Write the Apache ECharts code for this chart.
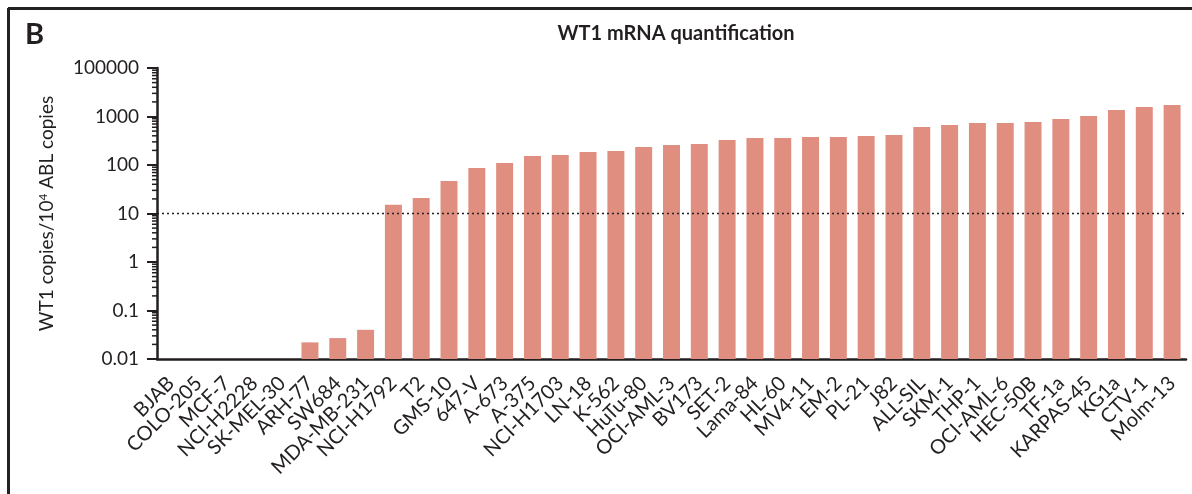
<!DOCTYPE html>
<html>
<head>
<meta charset="utf-8">
<script src="https://cdn.jsdelivr.net/npm/echarts@6/dist/echarts.min.js"></script>
<style>
html,body{margin:0;padding:0;background:#fff;}
#chart{width:1192px;height:494px;}
</style>
</head>
<body>
<div id="chart"></div>
<script>
const categories = ['BJAB','COLO-205','MCF-7','NCI-H2228','SK-MEL-30','ARH-77','SW684','MDA-MB-231','NCI-H1792','T2','GMS-10','647-V','A-673','A-375','NCI-H1703','LN-18','K-562','HuTu-80','OCI-AML-3','BV173','SET-2','Lama-84','HL-60','MV4-11','EM-2','PL-21','J82','ALL-SIL','SKM-1','THP-1','OCI-AML-6','HEC-50B','TF-1a','KARPAS-45','KG1a','CTV-1','Molm-13'];
const wt1Values = [null,null,null,null,null,0.022,0.027,0.040,15.2,20.9,46.7,86.7,110,153,161,185,194,235,258,271,327,360,360,378,378,396,415,608,668,735,735,771,888,1023,1361,1570,1726];
const yTickLabels = {'0.01':'0.01','0.1':'0.1','1':'1','10':'10','100':'100','1000':'1000','10000':'100000'};
const thresholdValue = 10;
const axisMin = 0.01;
const axisMax = 10000;
const minorTickValues = [0.02,0.03,0.04,0.05,0.06,0.07,0.08,0.09,0.2,0.3,0.4,0.5,0.6,0.7,0.8,0.9,2,3,4,5,6,7,8,9,20,30,40,50,60,70,80,90,200,300,400,500,600,700,800,900,2000,3000,4000,5000,6000,7000,8000,9000];

const FONT = 'Lato';
const INK = '#231f20';
const chart = echarts.init(document.getElementById('chart'), null, {renderer:'canvas'});
chart.setOption({
  animation:false,
  backgroundColor:'#fff',
  title:{
    text:'WT1 mRNA quantification',
    left:671, top:19, textAlign:'center',
    textStyle:{fontFamily:FONT,fontWeight:'bold',fontSize:20,color:INK}
  },
  graphic:[
    {type:'line',shape:{x1:8,y1:8.5,x2:1192,y2:8.5},style:{stroke:'#222',lineWidth:3}},
    {type:'line',shape:{x1:8.5,y1:8,x2:8.5,y2:494},style:{stroke:'#222',lineWidth:3}},
    {type:'text',left:25,top:20,style:{text:'B',fontFamily:FONT,fontWeight:'bold',fontSize:29,fill:INK}}
  ],
  grid:{left:157,right:6,top:68,bottom:135,containLabel:false},
  xAxis:{
    type:'category',
    data:categories,
    axisLine:{lineStyle:{color:INK,width:2.5}},
    axisTick:{alignWithLabel:true,length:10,lineStyle:{color:INK,width:2}},
    axisLabel:{interval:0,rotate:45,fontFamily:FONT,fontSize:20,color:INK,margin:21}
  },
  yAxis:{
    type:'log',
    logBase:10,
    min:axisMin,
    max:axisMax,
    splitNumber:6,
    name:'{a|WT1 copies/10}{s|4}{a| ABL copies}',
    nameLocation:'middle',
    nameGap:100,
    nameTextStyle:{rich:{a:{fontFamily:FONT,fontSize:19,color:INK},s:{fontFamily:FONT,fontSize:12,color:INK,verticalAlign:'top',padding:[0,0,8,0]}}},
    axisLine:{show:true,lineStyle:{color:INK,width:2.5}},
    axisTick:{show:true,length:10,lineStyle:{color:INK,width:2}},
    splitLine:{show:false},
    axisLabel:{fontFamily:FONT,fontSize:19,color:INK,margin:18,
      formatter:function(v){const k=String(+v.toPrecision(6));return yTickLabels[k]!==undefined?yTickLabels[k]:k;}}
  },
  series:[
    {
      type:'custom',
      name:'WT1',
      data:wt1Values.map((v,i)=>[i, v==null?'-':v]),
      encode:{x:0,y:1},
      renderItem:function(params,api){
        const v=api.value(1);
        if(v==null||isNaN(v)) return null;
        const top=api.coord([api.value(0),v]);
        const base=api.coord([api.value(0),axisMin]);
        const w=api.size([1,0])[0]*0.61;
        return {type:'rect',shape:{x:top[0]-w/2,y:top[1],width:w,height:base[1]-top[1]},style:{fill:'#e08e80'}};
      },
      z:2
    },
    {
      type:'line',
      data:[],
      silent:true,
      markLine:{
        silent:true,symbol:['none','none'],
        label:{show:false},
        lineStyle:{type:[2,3],color:INK,width:1.3},
        data:[{yAxis:thresholdValue}]
      },
      z:3
    },
    {
      type:'custom',
      silent:true,
      clip:false,
      data:minorTickValues.map(v=>[0,v]),
      encode:{x:0,y:1},
      renderItem:function(params,api){
        const y=api.coord([0,api.value(1)])[1];
        const x=params.coordSys.x;
        return {type:'line',shape:{x1:x-5,y1:y,x2:x,y2:y},style:{stroke:INK,lineWidth:1.5}};
      },
      z:5
    }
  ]
});
</script>
</body>
</html>
